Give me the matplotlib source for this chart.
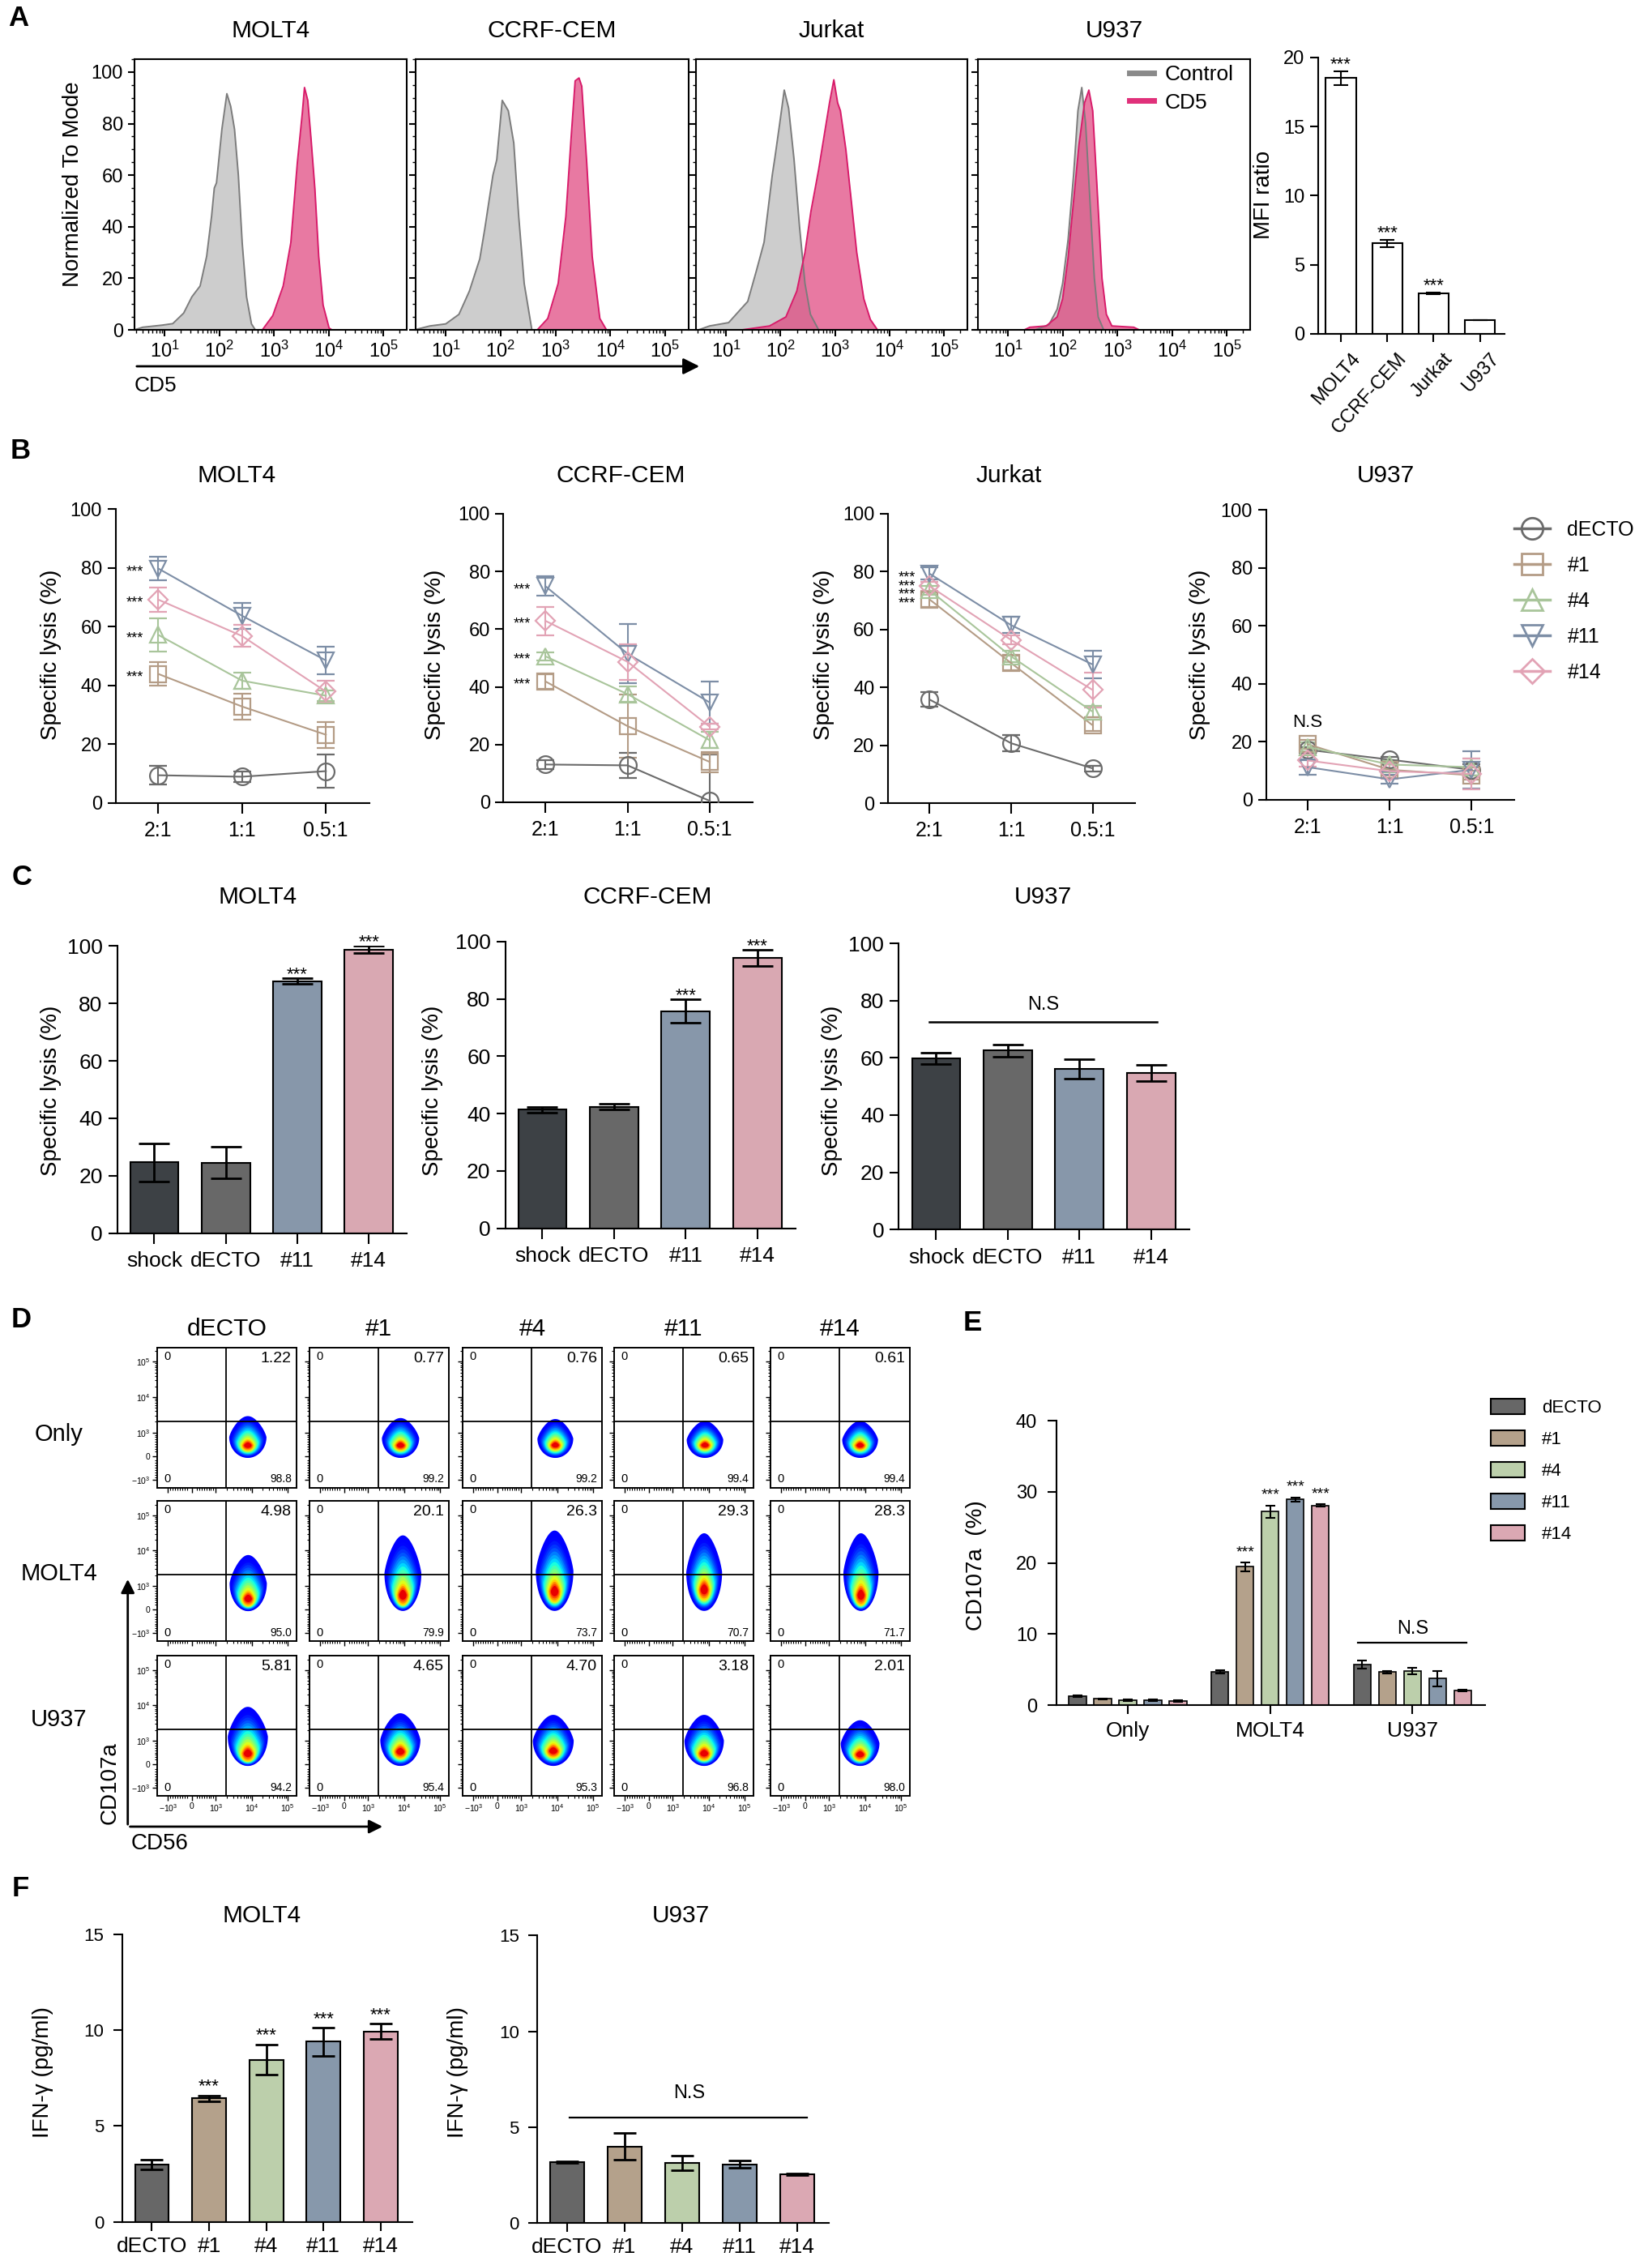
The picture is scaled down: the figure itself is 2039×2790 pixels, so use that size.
import numpy as np
import matplotlib
matplotlib.use('Agg')
import matplotlib.pyplot as plt
from matplotlib.patches import FancyArrowPatch, Patch
from matplotlib.lines import Line2D
from matplotlib.ticker import MultipleLocator, FixedLocator, NullFormatter
from matplotlib.transforms import ScaledTranslation

# ---------------- data ----------------
# A: CD5 histograms, x = log10(CD5), y = normalized to mode
molt4_ctrl_lx = [0.45, 0.6, 0.95, 1.15, 1.35, 1.5, 1.65, 1.77, 1.86, 1.91, 1.95, 2.05, 2.14, 2.21, 2.28, 2.35, 2.42, 2.5, 2.59, 2.66]
molt4_ctrl_y = [0, 1.0, 1.8, 2.4, 6.5, 12.8, 17, 28.5, 44, 55, 57, 78, 91.6, 86.7, 77.8, 60, 33.8, 12.8, 2.3, 0]
molt4_cd5_lx = [2.79, 2.98, 3.17, 3.31, 3.43, 3.52, 3.56, 3.62, 3.68, 3.75, 3.82, 3.9, 4.01, 4.06]
molt4_cd5_y = [0, 5.5, 17, 33.8, 65, 84, 94, 89, 74, 54.7, 28.5, 9.6, 0.7, 0]
ccrf_ctrl_lx = [0.43, 0.71, 1.0, 1.24, 1.43, 1.62, 1.71, 1.86, 1.93, 2.03, 2.14, 2.24, 2.33, 2.43, 2.57]
ccrf_ctrl_y = [0, 1.5, 2.3, 6, 15, 27.5, 39, 60, 66, 89, 85, 72.5, 44, 18, 0]
ccrf_cd5_lx = [2.67, 2.86, 3.05, 3.19, 3.29, 3.36, 3.43, 3.48, 3.57, 3.67, 3.81, 3.93]
ccrf_cd5_y = [0, 4.4, 18, 44, 75.7, 96.6, 97.7, 94.5, 65, 28.5, 4.4, 0]
jurkat_ctrl_lx = [0.5, 0.7, 1.05, 1.25, 1.4, 1.56, 1.7, 1.85, 1.9, 1.98, 2.07, 2.15, 2.25, 2.35, 2.45, 2.55, 2.7]
jurkat_ctrl_y = [0, 1.5, 2.8, 7.5, 11, 23, 34, 60, 67, 79, 93, 86, 66, 40, 18, 6, 0]
jurkat_cd5_lx = [1.3, 1.8, 2.1, 2.3, 2.45, 2.56, 2.7, 2.8, 2.9, 2.98, 3.05, 3.1, 3.2, 3.3, 3.4, 3.53, 3.65, 3.78]
jurkat_cd5_y = [0, 1.5, 5, 15, 30, 46, 62, 75, 88, 97, 88, 85, 70, 50, 30, 12, 4, 0]
u937_ctrl_lx = [1.5, 1.75, 1.9, 2.0, 2.1, 2.2, 2.28, 2.35, 2.42, 2.5, 2.58, 2.65, 2.75]
u937_ctrl_y = [0, 2, 8, 18, 35, 60, 85, 94, 80, 50, 20, 5, 0]
u937_cd5_lx = [1.3, 1.4, 1.7, 1.9, 2.0, 2.1, 2.2, 2.3, 2.4, 2.48, 2.55, 2.63, 2.72, 2.8, 2.9, 3.3, 3.4]
u937_cd5_y = [0, 1, 1.5, 5, 12, 28, 50, 72, 88, 93, 85, 55, 20, 6, 1.5, 1, 0]
hist_titles = ['MOLT4', 'CCRF-CEM', 'Jurkat', 'U937']

# A: MFI ratio
mfi_lines = ['MOLT4', 'CCRF-CEM', 'Jurkat', 'U937']
mfi_ratio = [18.5, 6.55, 2.93, 1.0]
mfi_err = [0.5, 0.27, 0.06, 0.02]
mfi_sig = [True, True, True, False]

# B: specific lysis vs E:T ratio (rows: dECTO, #1, #4, #11, #14)
ratios = ['2:1', '1:1', '0.5:1']
effectors = ['dECTO', '#1', '#4', '#11', '#14']
b_molt4_mean = [[9.4, 8.9, 10.8], [43.9, 32.8, 23.2], [57.2, 41.6, 36.5], [79.8, 63.7, 48.5], [69.2, 56.8, 37.9]]
b_molt4_sd = [[3.2, 1.8, 5.7], [4.1, 4.4, 4.4], [5.7, 2.8, 1.8], [3.9, 4.5, 4.7], [4.1, 3.7, 3.7]]
b_ccrf_mean = [[13.1, 12.8, 0.5], [41.9, 26.4, 14.0], [50.6, 37.5, 21.5], [74.9, 51.5, 34.6], [62.9, 48.7, 26.2]]
b_ccrf_sd = [[1.5, 4.4, 16.0], [2.6, 11.0, 3.5], [1.5, 2.8, 2.8], [3.4, 10.3, 7.3], [4.9, 6.2, 1.0]]
b_jurkat_mean = [[35.8, 20.7, 12.0], [70.4, 48.4, 26.9], [73.6, 50.7, 31.6], [79.3, 61.5, 47.9], [75.0, 56.4, 39.1]]
b_jurkat_sd = [[2.6, 2.8, 1.0], [2.5, 2.6, 2.0], [1.5, 2.0, 1.9], [2.1, 2.8, 4.7], [1.5, 1.5, 6.0]]
b_u937_mean = [[17.2, 13.8, 10.3], [19.1, 10.3, 8.4], [18.2, 12.1, 11.2], [11.2, 7.0, 10.3], [13.5, 9.8, 8.9]]
b_u937_sd = [[1.0, 1.0, 2.0], [1.5, 2.0, 1.5], [1.5, 1.5, 3.0], [2.5, 1.5, 6.4], [2.0, 2.5, 5.4]]
b_titles = ['MOLT4', 'CCRF-CEM', 'Jurkat', 'U937']
b_sig = [True, True, True, False]
b_ns_y = 26.6

# C: specific lysis bars
c_groups = ['shock', 'dECTO', '#11', '#14']
c_molt4 = [24.65, 24.5, 87.8, 98.8]
c_molt4_sd = [6.6, 5.5, 0.9, 1.3]
c_ccrf = [41.3, 42.3, 75.7, 94.2]
c_ccrf_sd = [1.0, 1.0, 4.1, 2.8]
c_u937 = [59.9, 62.5, 56.1, 54.7]
c_u937_sd = [2.0, 2.1, 3.5, 2.9]
c_sig = [False, False, True, True]
c_ns_y = 72.6

# D: CD107a / CD56 plots
d_cols = ['dECTO', '#1', '#4', '#11', '#14']
d_rows = ['Only', 'MOLT4', 'U937']
d_ur = [['1.22', '0.77', '0.76', '0.65', '0.61'], ['4.98', '20.1', '26.3', '29.3', '28.3'], ['5.81', '4.65', '4.70', '3.18', '2.01']]
d_lr = [['98.8', '99.2', '99.2', '99.4', '99.4'], ['95.0', '79.9', '73.7', '70.7', '71.7'], ['94.2', '95.4', '95.3', '96.8', '98.0']]
d_cd56 = [[7800, 8000, 8900, 7900, 7300], [8000, 9300, 8500, 7500, 7700], [7800, 7900, 7800, 7500, 7300]]
d_lo = [[-80, -80, -80, -80, -80], [-70, -60, -60, -60, -60], [-70, -70, -70, -70, -70]]
d_hi = [[2900, 2560, 2400, 2120, 2120], [7500, 27000, 37000, 31000, 31000], [9100, 6000, 5400, 5400, 3800]]
d_core = [[460, 460, 470, 470, 460], [470, 625, 780, 855, 625], [470, 547, 577, 470, 423]]
d_wdec = [[1.04, 1.04, 1.0, 1.02, 1.0], [1.04, 1.03, 1.05, 1.0, 0.98], [1.12, 1.12, 1.14, 1.1, 1.08]]
d_gate_x = 1900
d_gate_y = 2100

# E: CD107a %
e_groups = ['Only', 'MOLT4', 'U937']
e_dECTO = [1.3, 4.68, 5.74]
e_dECTO_sd = [0.1, 0.25, 0.6]
e_1 = [0.9, 19.45, 4.68]
e_1_sd = [0.1, 0.6, 0.15]
e_4 = [0.7, 27.2, 4.8]
e_4_sd = [0.08, 0.9, 0.45]
e_11 = [0.73, 28.9, 3.74]
e_11_sd = [0.08, 0.3, 1.05]
e_14 = [0.6, 28.1, 2.07]
e_14_sd = [0.08, 0.15, 0.1]
e_ns_y = 8.79

# F: IFN-gamma
f_groups = ['dECTO', '#1', '#4', '#11', '#14']
f_molt4 = [2.99, 6.44, 8.45, 9.39, 9.93]
f_molt4_sd = [0.26, 0.15, 0.79, 0.72, 0.39]
f_u937 = [3.17, 3.99, 3.14, 3.07, 2.56]
f_u937_sd = [0.05, 0.7, 0.39, 0.2, 0.05]
f_ns_y = 5.52

# colours / markers
line_cols = ['#6b6b6b', '#b49c86', '#a9c59b', '#7d8ea6', '#e2a3b5']
line_marks = ['o', 's', '^', 'v', 'D']
c_cols = ['#3d4145', '#686868', '#8797aa', '#d9a8b2']
e_cols = ['#676767', '#b4a18b', '#bccfab', '#8798ab', '#dba8b3']

# ---------------- figure ----------------
W, H = 2040, 2790
plt.rcParams['font.family'] = ['Liberation Sans', 'DejaVu Sans']
plt.rcParams['mathtext.fontset'] = 'custom'
plt.rcParams['mathtext.rm'] = 'Liberation Sans'
plt.rcParams['axes.linewidth'] = 1.5
for a in ('xtick', 'ytick'):
    plt.rcParams[a + '.major.width'] = 1.5
    plt.rcParams[a + '.minor.width'] = 1.0

fig = plt.figure(figsize=(W / 100, H / 100), dpi=100)


def add_ax(l, t, r, b):
    return fig.add_axes([l / W, 1 - b / H, (r - l) / W, (b - t) / H])


def ftext(x, y, s, **kw):
    kw.setdefault('ha', 'center')
    kw.setdefault('va', 'center')
    fig.text(x / W, 1 - y / H, s, **kw)


def mreg(s):
    return r'$\mathregular{' + s + '}$'


def bar_style(ax, ymax, ystep, tsize, tlen=8):
    ax.spines['top'].set_visible(False)
    ax.spines['right'].set_visible(False)
    ax.set_ylim(0, ymax)
    ax.yaxis.set_major_locator(MultipleLocator(ystep))
    ax.tick_params(direction='out', length=tlen, width=1.5, labelsize=tsize, pad=5)


def stars(ax, x, y, size=16, dy=3):
    ax.annotate('***', (x, y), xytext=(0, dy), textcoords='offset points',
                ha='center', va='center', fontsize=size, annotation_clip=False)


def star_column(ax, x, ys, size, px_unit):
    # close values share one stacked text so the marks do not collide
    ys = sorted(ys, reverse=True)
    groups = [[ys[0]]]
    for y in ys[1:]:
        if groups[-1][-1] - y < 4.5:
            groups[-1].append(y)
        else:
            groups.append([y])
    for g in groups:
        n = len(g)
        ls = 1.0
        if n > 1:
            gap = (g[0] - g[-1]) / (n - 1) * px_unit
            ls = gap / (size * 1.389 * 1.17)
        ax.annotate('\n'.join(['***'] * n), (x, float(np.mean(g))), xytext=(0, -3),
                    textcoords='offset points', ha='center', va='center', fontsize=size,
                    linespacing=ls, annotation_clip=False)


# panel letters
for s, x, y in [('A', 23, 23), ('B', 25, 556), ('C', 27, 1083), ('D', 26, 1629), ('E', 1200, 1632), ('F', 25, 2331)]:
    ftext(x, y, s, fontsize=25, fontweight='bold')

# ---------- A: histograms ----------
hist_data = [(molt4_ctrl_lx, molt4_ctrl_y, molt4_cd5_lx, molt4_cd5_y),
             (ccrf_ctrl_lx, ccrf_ctrl_y, ccrf_cd5_lx, ccrf_cd5_y),
             (jurkat_ctrl_lx, jurkat_ctrl_y, jurkat_cd5_lx, jurkat_cd5_y),
             (u937_ctrl_lx, u937_ctrl_y, u937_cd5_lx, u937_cd5_y)]
hist_px = [(166, 502), (513, 850), (859, 1194), (1207, 1543)]
minor_log = [m * 10.0 ** k for k in range(0, 6) for m in range(2, 10)]
for i, (l, r) in enumerate(hist_px):
    ax = add_ax(l, 73, r, 407)
    lxc, yc, lxp, yp = hist_data[i]
    xc = 10 ** np.array(lxc)
    xp = 10 ** np.array(lxp)
    ax.fill_between(xc, yc, color='#cdcdcd', lw=0)
    ax.fill_between(xp, yp, color='#e0457f', alpha=0.72, lw=0)
    ax.plot(xc, yc, color='#7c7c7c', lw=1.4)
    ax.plot(xp, yp, color='#d81b6a', lw=1.4)
    ax.set_xscale('log')
    ax.set_xlim(10 ** 0.45, 10 ** 5.43)
    ax.set_ylim(0, 105)
    ax.set_xticks([1e1, 1e2, 1e3, 1e4, 1e5], [mreg('10^{%d}' % k) for k in range(1, 6)])
    ax.xaxis.set_minor_locator(FixedLocator(minor_log))
    ax.xaxis.set_minor_formatter(NullFormatter())
    ax.yaxis.set_major_locator(MultipleLocator(20))
    ax.yaxis.set_minor_locator(MultipleLocator(5))
    ax.tick_params(which='major', direction='out', length=6, labelsize=17, pad=4)
    ax.tick_params(which='minor', direction='out', length=3)
    if i > 0:
        ax.tick_params(labelleft=False)
    else:
        ftext(90, 227, 'Normalized To Mode', rotation=90, fontsize=20)
    ftext((l + r) / 2, 38, hist_titles[i], fontsize=21.5)
    if i == 3:
        hd = [Line2D([], [], color='#8a8a8a', lw=5), Line2D([], [], color='#e0307a', lw=5)]
        ax.legend(hd, ['Control', 'CD5'], loc='upper left', bbox_to_anchor=(1394 / W, 1 - 80 / H),
                  bbox_transform=fig.transFigure, frameon=False, fontsize=19, handlelength=1.15,
                  handletextpad=0.5, labelspacing=0.4, borderpad=0, borderaxespad=0)

fig.add_artist(FancyArrowPatch((166 / W, 1 - 452 / H), (866 / W, 1 - 452 / H), transform=fig.transFigure,
                               arrowstyle='-|>', mutation_scale=30, lw=2, color='black'))
ftext(166, 476, 'CD5', ha='left', fontsize=19)

# ---------- A: MFI ratio ----------
ax = add_ax(1627, 70.7, 1857, 412)
xm = np.arange(len(mfi_lines))
ax.bar(xm, mfi_ratio, width=0.65, color='white', edgecolor='black', lw=1.5, yerr=mfi_err,
       capsize=6.7, error_kw=dict(elinewidth=1.5, capthick=1.5, ecolor='black'))
bar_style(ax, 20, 5, 17, tlen=7)
ax.set_xlim(-0.49, 3.53)
ax.set_xticks(xm, mfi_lines, rotation=48, ha='right', va='center', rotation_mode='anchor', fontsize=17)
for lab in ax.get_xticklabels():
    lab.set_transform(lab.get_transform() + ScaledTranslation(0.2, -0.1, fig.dpi_scale_trans))
for k in range(len(mfi_lines)):
    if mfi_sig[k]:
        stars(ax, k, mfi_ratio[k] + mfi_err[k], size=16, dy=6)
ftext(1560, 240, 'MFI ratio', rotation=90, fontsize=20)

# ---------- B: lysis curves ----------
b_means = [b_molt4_mean, b_ccrf_mean, b_jurkat_mean, b_u937_mean]
b_sds = [b_molt4_sd, b_ccrf_sd, b_jurkat_sd, b_u937_sd]
b_px = [(142.6, 628.3, 456, 990.7), (621.5, 634, 928.6, 990), (1096, 634, 1401, 991), (1562.5, 629, 1869, 986.7)]
b_title_x = [292, 766, 1245, 1710]
b_ylab_x = [63, 537, 1017, 1481]
xr = np.arange(len(ratios))
for i, (l, t, r, b) in enumerate(b_px):
    ax = add_ax(l, t, r, b)
    for j in range(len(effectors)):
        ax.errorbar(xr, b_means[i][j], yerr=b_sds[i][j], color=line_cols[j], marker=line_marks[j],
                    mfc='none', ms=15 if line_marks[j] != 'D' else 12, mew=1.6, lw=1.5, capsize=8,
                    elinewidth=1.5, capthick=1.5, zorder=3)
    ax.spines['top'].set_visible(False)
    ax.spines['right'].set_visible(False)
    ax.set_xlim(-0.51, 2.52)
    ax.set_ylim(0, 100)
    ax.set_xticks(xr, ratios)
    ax.yaxis.set_major_locator(MultipleLocator(20))
    ax.tick_params(axis='x', direction='out', length=9, labelsize=18, pad=7)
    ax.tick_params(axis='y', direction='out', length=7, labelsize=17, pad=5)
    if b_sig[i]:
        star_column(ax, -0.28, [b_means[i][j][0] for j in range(1, len(effectors))], 13, (b - t) / 100)
    else:
        ax.text(0, b_ns_y, 'N.S', ha='center', va='center', fontsize=16)
    ftext(b_title_x[i], 587, b_titles[i], fontsize=21.5)
    ftext(b_ylab_x[i], 808, 'Specific lysis (%)', rotation=90, fontsize=20)
    if i == 3:
        hd = [Line2D([], [], color=line_cols[j], marker=line_marks[j], mfc='none',
                     ms=19 if line_marks[j] != 'D' else 15, mew=2, lw=2.5) for j in range(5)]
        ax.legend(hd, effectors, loc='upper left', bbox_to_anchor=(1869 / W, 1 - 642 / H),
                  bbox_transform=fig.transFigure, frameon=False, fontsize=18, handlelength=1.75,
                  handletextpad=0.87, labelspacing=0.8, borderpad=0, borderaxespad=0)

# ---------- C: lysis bars ----------
c_vals = [(c_molt4, c_molt4_sd), (c_ccrf, c_ccrf_sd), (c_u937, c_u937_sd)]
c_px = [(144.6, 1167.3, 502, 1521.7), (623.5, 1161.7, 981.6, 1515.7), (1109.4, 1164, 1467.6, 1517.3)]
c_titles = ['MOLT4', 'CCRF-CEM', 'U937']
c_title_x = [318, 799, 1287]
c_ylab_x = [63, 534, 1027]
xc4 = np.arange(len(c_groups))
for i, (l, t, r, b) in enumerate(c_px):
    ax = add_ax(l, t, r, b)
    vals, sds = c_vals[i]
    ax.bar(xc4, vals, width=0.675, color=c_cols, edgecolor='black', lw=1.5, yerr=sds, capsize=14,
           error_kw=dict(elinewidth=2, capthick=2, ecolor='black'))
    bar_style(ax, 100, 20, 19)
    ax.set_xlim(-0.52, 3.53)
    ax.set_xticks(xc4, c_groups)
    ax.tick_params(axis='x', length=9, labelsize=19, pad=7)
    if i < 2:
        for k in range(len(c_groups)):
            if c_sig[k]:
                stars(ax, k, vals[k] + sds[k], size=16, dy=3)
    else:
        ax.plot([-0.1, 3.08], [c_ns_y, c_ns_y], color='black', lw=1.8)
        ax.text(1.5, c_ns_y + 6, 'N.S', ha='center', va='center', fontsize=17)
    ftext(c_title_x[i], 1107, c_titles[i], fontsize=21.5)
    ftext(c_ylab_x[i], 1346, 'Specific lysis (%)', rotation=90, fontsize=20)

# ---------- D: CD107a vs CD56 density plots ----------
d_left = [194, 382, 571, 758, 951]
d_top = [1662.6, 1852, 2043]
d_minor = [m * 10.0 ** k for k in (2, 3, 4) for m in range(2, 10)] + [-m * 100.0 for m in range(2, 10)] + [2e5]
jet = plt.get_cmap('jet')


def draw_blob(ax, cx, ylo, yhi, ycore, wdec, nlev=18):
    tx = ax.xaxis.get_transform()
    ty = ax.yaxis.get_transform()
    tcx = tx.transform(np.array([[cx]])).ravel()[0]
    lo, hi, core = ty.transform(np.array([[ylo], [yhi], [ycore]])).ravel()
    cy0, hh0, hw0 = (lo + hi) / 2, (hi - lo) / 2, wdec * 1000 / 2
    th = np.linspace(0, 2 * np.pi, 140)
    for k in range(nlev):
        t = k / (nlev - 1)
        cy = cy0 + (core - cy0) * min(1.0, 1.2 * t)
        hh = hh0 * (1 - 0.87 * t)
        hw = hw0 * (1 - 0.8 * t)
        xs = tcx + hw * np.cos(th) * (1 - 0.3 * np.clip(np.sin(th), 0, None))
        ys = cy + hh * np.sin(th)
        X = tx.inverted().transform(xs.reshape(-1, 1)).ravel()
        Y = ty.inverted().transform(ys.reshape(-1, 1)).ravel()
        ax.fill(X, Y, color=jet(0.11 + 0.8 * t ** 1.7), lw=0, zorder=1)


for r in range(3):
    for c in range(5):
        l, t = d_left[c], d_top[r]
        ax = add_ax(l, t, l + 172, t + 173)
        ax.set_xscale('symlog', linthresh=1000, linscale=0.6)
        ax.set_yscale('symlog', linthresh=1000, linscale=0.6)
        ax.set_xlim(-2005, 1.78e5)
        ax.set_ylim(-1683, 2.56e5)
        draw_blob(ax, d_cd56[r][c], d_lo[r][c], d_hi[r][c], d_core[r][c], d_wdec[r][c])
        ax.axvline(d_gate_x, color='black', lw=1.3, zorder=2)
        ax.axhline(d_gate_y, color='black', lw=1.3, zorder=2)
        majors = [-1e3, 0, 1e3, 1e4, 1e5]
        labs = [mreg('-10^{3}'), '0', mreg('10^{3}'), mreg('10^{4}'), mreg('10^{5}')]
        ax.set_xticks(majors, labs if r == 2 else [''] * 5)
        ax.set_yticks(majors, labs if c == 0 else [''] * 5)
        ax.xaxis.set_minor_locator(FixedLocator(d_minor))
        ax.yaxis.set_minor_locator(FixedLocator(d_minor))
        ax.xaxis.set_minor_formatter(NullFormatter())
        ax.yaxis.set_minor_formatter(NullFormatter())
        ax.tick_params(which='major', direction='out', length=4, width=1, labelsize=7.5, pad=2)
        ax.tick_params(which='minor', direction='out', length=2, width=0.8)
        for sp in ax.spines.values():
            sp.set_linewidth(1.4)
        ax.text(0.07, 0.935, '0', transform=ax.transAxes, ha='center', va='center', fontsize=10.5)
        ax.text(0.07, 0.06, '0', transform=ax.transAxes, ha='center', va='center', fontsize=10.5)
        ax.text(0.965, 0.92, d_ur[r][c], transform=ax.transAxes, ha='right', va='center', fontsize=14)
        ax.text(0.965, 0.06, d_lr[r][c], transform=ax.transAxes, ha='right', va='center', fontsize=10)
        if r == 0:
            ftext(l + 86, 1640, d_cols[c], fontsize=21.5)
    ftext(73, [1770, 1942, 2122][r], d_rows[r], fontsize=21)

fig.add_artist(FancyArrowPatch((157.7 / W, 1 - 2254 / H), (157.7 / W, 1 - 1946 / H), transform=fig.transFigure,
                               arrowstyle='-|>', mutation_scale=25, lw=2, color='black'))
fig.add_artist(FancyArrowPatch((157.7 / W, 1 - 2254 / H), (475 / W, 1 - 2254 / H), transform=fig.transFigure,
                               arrowstyle='-|>', mutation_scale=25, lw=2, color='black'))
ftext(136, 2200, 'CD107a', rotation=90, fontsize=20)
ftext(197, 2275, 'CD56', fontsize=20)

# ---------- E: CD107a % ----------
ax = add_ax(1303.8, 1753, 1832.6, 2104.3)
e_vals = [(e_dECTO, e_dECTO_sd), (e_1, e_1_sd), (e_4, e_4_sd), (e_11, e_11_sd), (e_14, e_14_sd)]
xg = np.arange(len(e_groups))
offs = (np.arange(5) - 2) * 0.1765
for j, (vals, sds) in enumerate(e_vals):
    ax.bar(xg + offs[j], vals, width=0.12, color=e_cols[j], edgecolor='black', lw=1.2, yerr=sds,
           capsize=4.5, error_kw=dict(elinewidth=1.5, capthick=1.5, ecolor='black'), label=effectors[j])
    if j > 0:
        stars(ax, 1 + offs[j], vals[1] + sds[1], size=14, dy=9)
bar_style(ax, 40, 10, 17)
ax.set_xlim(-0.502, 2.508)
ax.set_xticks(xg, e_groups)
ax.tick_params(axis='x', length=8, labelsize=19, pad=6)
ax.tick_params(axis='y', pad=9)
ax.plot([2 - 0.386, 2 + 0.382], [e_ns_y, e_ns_y], color='black', lw=1.6)
ax.text(2, e_ns_y + 1.9, 'N.S', ha='center', va='center', fontsize=17)
ftext(1205, 1932, 'CD107a  (%)', rotation=90, fontsize=20)
hd = [Patch(facecolor=e_cols[j], edgecolor='black', lw=1.5) for j in range(5)]
ax.legend(hd, effectors, loc='upper left', bbox_to_anchor=(1840 / W, 1 - 1726 / H),
          bbox_transform=fig.transFigure, frameon=False, fontsize=16, handlelength=1.9,
          handleheight=0.95, handletextpad=0.95, labelspacing=0.75, borderpad=0, borderaxespad=0)

# ---------- F: IFN-gamma ----------
f_vals = [(f_molt4, f_molt4_sd), (f_u937, f_u937_sd)]
f_px = [(150.8, 2386.7, 508.6, 2741.7), (663, 2388.3, 1022.8, 2743.3)]
f_titles = ['MOLT4', 'U937']
f_title_x = [323, 840]
f_ylab_x = [53, 565]
xf = np.arange(len(f_groups))
for i, (l, t, r, b) in enumerate(f_px):
    ax = add_ax(l, t, r, b)
    vals, sds = f_vals[i]
    ax.bar(xf, vals, width=0.594, color=e_cols, edgecolor='black', lw=1.5, yerr=sds, capsize=10,
           error_kw=dict(elinewidth=2, capthick=2, ecolor='black'))
    bar_style(ax, 15, 5, 16)
    ax.set_xlim(-0.52, 4.55)
    ax.set_xticks(xf, f_groups)
    ax.tick_params(axis='x', length=8, labelsize=19, pad=5)
    ax.tick_params(axis='y', pad=8)
    if i == 0:
        for k in range(1, len(f_groups)):
            stars(ax, k, vals[k] + sds[k], size=16, dy=8)
    else:
        ax.plot([0.05, 4.17], [f_ns_y, f_ns_y], color='black', lw=1.6)
        ax.text(2.13, f_ns_y + 1.24, 'N.S', ha='center', va='center', fontsize=17)
    ftext(f_title_x[i], 2364, f_titles[i], fontsize=21.5)
    ftext(f_ylab_x[i], 2557, 'IFN-γ (pg/ml)', rotation=90, fontsize=20)

fig.savefig('out.png', dpi=100)
